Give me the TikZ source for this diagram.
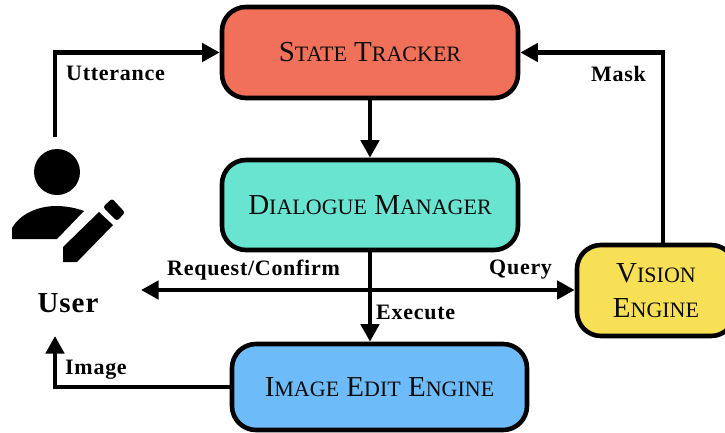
\documentclass[tikz,border=0pt]{standalone}
\usepackage{fontspec}
\setmainfont{Liberation Serif}
\newfontfamily\labfont[LetterSpace=3.3]{Liberation Serif}
\usetikzlibrary{arrows.meta}
\newcommand{\sct}[2]{\raisebox{-1.6pt}{\fontsize{29}{35}\selectfont #1\fontsize{22}{35}\selectfont #2}}
\tikzset{
  x=1pt,y=-1pt,
  blockbox/.style={draw=black,line width=4.6pt,rounded corners=24pt,inner sep=0pt,align=center,text=black!95,font=\fontsize{29}{35}\selectfont},
  conn/.style={line width=4.6pt,-{Triangle[length=17.5pt,width=18pt]}},
  both/.style={line width=4.6pt,{Triangle[length=17.5pt,width=18pt]}-{Triangle[length=17.5pt,width=18pt]}},
  lab/.style={font=\labfont\bfseries\fontsize{22}{24}\selectfont,inner sep=0pt,text=black}
}
\definecolor{cred}{HTML}{F0705A}
\definecolor{cteal}{HTML}{69E4D1}
\definecolor{cblue}{HTML}{6DBCF9}
\definecolor{cyel}{HTML}{F7DF56}
\begin{document}
\begin{tikzpicture}
\useasboundingbox (0,0) rectangle (725,432);
\node[blockbox,fill=cred,minimum width=296pt,minimum height=91pt] (st) at (370,52.5) {\sct{S}{TATE} \sct{T}{RACKER}};
\node[blockbox,fill=cteal,minimum width=296pt,minimum height=90pt] (dm) at (370,205) {\sct{D}{IALOGUE} \sct{M}{ANAGER}};
\node[blockbox,fill=cblue,minimum width=295pt,minimum height=86pt] (ie) at (379.5,387) {\sct{I}{MAGE} \sct{E}{DIT} \sct{E}{NGINE}};
\node[blockbox,fill=cyel,minimum width=158pt,minimum height=91pt] (ve) at (656,290.5) {\sct{V}{ISION}\\\sct{E}{NGINE}};
\node[font=\labfont\bfseries\fontsize{29}{30}\selectfont,inner sep=0pt] (user) at (68,303) {User};
% icon
\fill[black] (57,172) circle (23);
\fill[black] (12,239) -- (12,228) .. controls (20,214) and (38,206) .. (56,206) .. controls (66,206) and (76,208) .. (84,211) -- (57,239) -- cycle;
\fill[black] (63,247) -- (99,212) -- (113,225) -- (77,262) -- (63,262) -- cycle;
\fill[black,rounded corners=2.5pt] (103,207) -- (112,198.5) -- (125,212.5) -- (117,221) -- cycle;
\coordinate (ustart) at (55,137);
\coordinate (uend) at (55,336);
\coordinate (left) at (141,290);
\coordinate (vin) at (ve.west |- 0,290);
\draw[conn] (ustart) |- (st.west);
\draw[conn] (ve.north -| 663,0) |- (st.east);
\draw[conn] (st.south) -- (dm.north);
\draw[conn] (dm.south) -- (ie.north -| dm.south);
\draw[both] (left) -- (vin);
\draw[conn] (ie.west) -| (uend);
\node[lab,anchor=west] (l1) at (66,73) {Utterance};
\node[lab,anchor=west] (l2) at (591,74) {Mask};
\node[lab,anchor=west] (l3) at (167,270) {Request/Confirm};
\node[lab,anchor=west] (l4) at (489,270) {Query};
\node[lab,anchor=west] (l5) at (376,312) {Execute};
\node[lab,anchor=west] (l6) at (65,370) {Image};
\end{tikzpicture}
\end{document}
